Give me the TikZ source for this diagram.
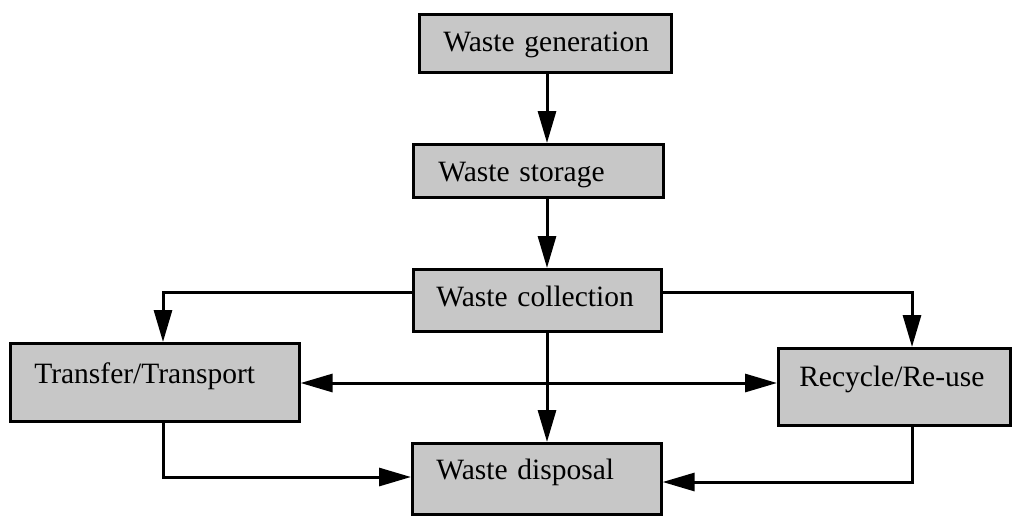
\documentclass[tikz,border=0pt]{standalone}
\usepackage{fontspec}
\setmainfont{Liberation Serif}
\usetikzlibrary{arrows.meta}
\begin{document}
\begin{tikzpicture}[x=1pt,y=-1pt,
  boxstyle/.style={draw=black, line width=2.6pt, fill=black!22, rectangle, anchor=north west,
    inner ysep=0pt, align=left, font=\fontsize{29.5}{32}\selectfont},
  arr/.style={line width=3pt, -{Triangle[length=32pt,width=18pt]}},
  darr/.style={line width=3pt, {Triangle[length=32pt,width=18pt]}-{Triangle[length=32pt,width=18pt]}}]
\useasboundingbox (0,0) rectangle (1016,515);
% boxes
\node[boxstyle, inner xsep=24pt, text width=204pt, text height=37pt, text depth=21pt] (gen) at (418,13) {\mbox{Waste generation}};
\node[boxstyle, inner xsep=25pt, text width=200pt, text height=37pt, text depth=16pt] (sto) at (412,143) {\mbox{Waste storage}};
\node[boxstyle, inner xsep=23pt, text width=202pt, text height=37pt, text depth=25pt] (col) at (412,268) {\mbox{Waste collection}};
\node[boxstyle, inner xsep=24pt, text width=241pt, text height=40pt, text depth=38pt] (tra) at (9,342) {\mbox{Transfer/Transport}};
\node[boxstyle, inner xsep=21pt, text width=190pt, text height=38pt, text depth=39pt] (rec) at (777,347) {\mbox{Recycle/Re-use}};
\node[boxstyle, inner xsep=24pt, text width=201pt, text height=36pt, text depth=35pt] (dis) at (411,442) {\mbox{Waste disposal}};
% helper coordinates
\coordinate (mx) at (547,0);
\coordinate (lx) at (163,292);
\coordinate (rx) at (912,292);
\coordinate (hy) at (0,383);
\coordinate (ly) at (0,477);
\coordinate (ry) at (0,482);
% connectors
\draw[arr] (gen.south -| mx) -- (sto.north -| mx);
\draw[arr] (sto.south -| mx) -- (col.north -| mx);
\draw[arr] (col.south -| mx) -- (dis.north -| mx);
\draw[arr] (col.west |- lx) -| (tra.north -| lx);
\draw[arr] (col.east |- rx) -| (rec.north -| rx);
\draw[darr] (tra.east |- hy) -- (rec.west |- hy);
\draw[arr] (tra.south -| lx) |- (dis.west |- ly);
\draw[arr] (rec.south -| rx) |- (dis.east |- ry);
\end{tikzpicture}
\end{document}
